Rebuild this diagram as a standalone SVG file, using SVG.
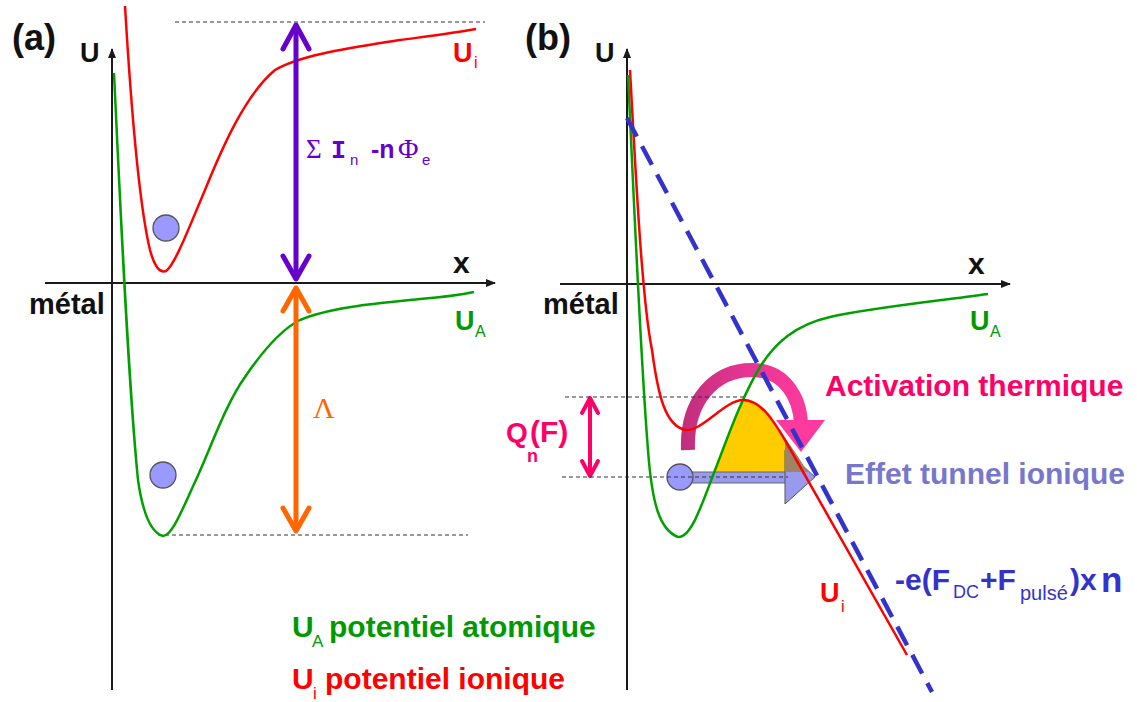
<svg xmlns="http://www.w3.org/2000/svg" width="1137" height="702" viewBox="0 0 1137 702">
<style>
text{font-family:"Liberation Sans",Arial,sans-serif;font-weight:bold}
.ax{stroke:#1a1a1a;stroke-width:2;fill:none}
.dash{stroke:#333;stroke-width:1.2;stroke-dasharray:4 3;fill:none}
.red{stroke:#FF0000;stroke-width:2.5;fill:none}
.grn{stroke:#00A000;stroke-width:2.5;fill:none}
.ball{fill:#9999FF;stroke:#555;stroke-width:1.3}
.blk{fill:#111}
.tr{fill:#FF0000}
.tg{fill:#009900}
.sub{font-weight:normal}
.serif{font-family:"Liberation Serif","Times New Roman",serif;font-weight:normal}
.mono{font-family:"Liberation Mono","Courier New",monospace;font-weight:bold}
</style>
<defs>
<marker id="ah" markerWidth="10" markerHeight="8" refX="9" refY="4" orient="auto" markerUnits="userSpaceOnUse"><path d="M0,0 L10,4 L0,8 Z" fill="#1a1a1a"/></marker>
<linearGradient id="pinkg" gradientUnits="userSpaceOnUse" x1="680" y1="0" x2="815" y2="0"><stop offset="0" stop-color="#BF2E7C"/><stop offset="0.5" stop-color="#E83592"/><stop offset="1" stop-color="#FF3A9E"/></linearGradient>
</defs>

<g id="panel-a">
<g id="a-axes">
<line class="ax" x1="112" y1="690" x2="112" y2="49" marker-end="url(#ah)"/>
<line class="ax" x1="45" y1="283" x2="495" y2="283" marker-end="url(#ah)"/>
<text class="blk" x="12" y="50" font-size="36">(a)</text>
<text class="blk" x="80" y="62" font-size="27">U</text>
<text class="blk" x="453" y="273" font-size="30">x</text>
<text class="blk" x="29" y="314" font-size="29">métal</text>
</g>
<g id="a-refs">
<line class="dash" x1="175" y1="22" x2="485" y2="22"/>
<line class="dash" x1="158" y1="535" x2="468" y2="535"/>
</g>
<g id="a-Ui">
<path class="red" d="M125,6 C130,90 138,200 150,250 C155,268 160,273 166,271 C175,265 190,225 205,190 C222,148 245,95 275,70 C300,55 350,48 400,40 C430,36 455,33 476,29"/>
<text class="tr" x="453" y="62" font-size="27">U<tspan class="sub" x="474" y="68" font-size="16">i</tspan></text>
</g>
<g id="a-UA">
<path class="grn" d="M114,73 C120,200 128,380 138,480 C143,515 152,533 163,536 C172,536 182,510 195,482 C210,450 225,405 245,377 C262,352 280,330 300,320 C330,307 380,303 420,299 C445,297 460,295 474,292"/>
<text class="tg" x="455" y="330" font-size="27">U<tspan class="sub" x="475" y="337" font-size="16">A</tspan></text>
</g>
<circle id="a-ion" class="ball" cx="166" cy="228" r="13"/>
<circle id="a-atom" class="ball" cx="163" cy="475" r="13"/>
</g>

<g id="connectors">
<g id="a-ionisation" stroke="#6600CC" stroke-width="5" fill="none" stroke-linecap="round" stroke-linejoin="round">
<line x1="296" y1="26" x2="296" y2="278"/>
<polyline points="283,49 296,25 309,49"/>
<polyline points="283,256 296,279 309,256"/>
</g>
<g id="a-lambda" stroke="#FF6600" stroke-width="5" fill="none" stroke-linecap="round" stroke-linejoin="round">
<line x1="296" y1="289" x2="296" y2="530"/>
<polyline points="283,311 296,288 309,311"/>
<polyline points="283,508 296,531 309,508"/>
</g>
<g id="b-Q" stroke="#FF0066" stroke-width="4" fill="none" stroke-linecap="round" stroke-linejoin="round">
<line x1="590" y1="399" x2="590" y2="475"/>
<polyline points="582,413 590,398 598,413"/>
<polyline points="582,461 590,476 598,461"/>
</g>
</g>

<g id="a-labels">
<text fill="#6600CC" y="158" font-size="22"><tspan class="serif" x="306" font-size="27">Σ</tspan><tspan class="mono" x="331" font-size="25">I</tspan><tspan class="sub" x="350" y="165" font-size="15">n</tspan><tspan x="371" y="158" font-size="25">-n</tspan><tspan class="serif" x="398" font-size="28">Φ</tspan><tspan class="sub" x="422" y="165" font-size="15">e</tspan></text>
<text class="serif" fill="#FF6600" x="313" y="418" font-size="30">Λ</text>
</g>

<g id="legend">
<text class="tg" x="292" y="637" font-size="30">U<tspan class="sub" x="312" y="647" font-size="17">A</tspan><tspan x="329" y="637">potentiel atomique</tspan></text>
<text class="tr" x="292" y="689" font-size="30">U<tspan class="sub" x="313" y="699" font-size="17">i</tspan><tspan x="325" y="689">potentiel ionique</tspan></text>
</g>

<g id="panel-b">
<g id="b-axes">
<line class="ax" x1="627" y1="690" x2="627" y2="49" marker-end="url(#ah)"/>
<line class="ax" x1="560" y1="284" x2="1010" y2="284" marker-end="url(#ah)"/>
<text class="blk" x="525" y="50" font-size="36">(b)</text>
<text class="blk" x="595" y="62" font-size="27">U</text>
<text class="blk" x="968" y="274" font-size="30">x</text>
<text class="blk" x="543" y="314" font-size="29">métal</text>
</g>
<g id="b-barrier">
<path d="M713,472 C722,450 732,425 742,402 C752,398 764,405 772,418 L785,438 L785,472 Z" fill="#FFCC00"/>
</g>
<g id="b-pink-arc">
<path d="M688,450 C686,400 715,370 752,370 C785,370 800,398 801,424" fill="none" stroke="url(#pinkg)" stroke-width="14"/>
<polygon points="776,420 825,420 801,452" fill="#FF3A9E"/>
</g>
<g id="b-tunnel">
<rect x="690" y="472" width="97" height="11" fill="#9999EE" stroke="#666" stroke-width="1"/>
<polygon points="785,450 815,477 785,504" fill="#9999EE" stroke="#555" stroke-width="1"/>
<path d="M785,438 L795,452 L804,466 L810,472 L785,472 Z" fill="#9E8466"/>
</g>
<circle id="b-ion" class="ball" cx="680" cy="477" r="13"/>
<g id="b-refs">
<line class="dash" x1="565" y1="397" x2="745" y2="397"/>
<line class="dash" x1="562" y1="477" x2="788" y2="477"/>
</g>
<g id="b-UA">
<path class="grn" d="M628,75 C634,200 640,350 648,450 C652,505 660,530 678,537 C690,538 700,510 712,478 C725,445 740,400 760,367 C775,343 795,325 830,317 C870,308 930,302 988,294"/>
<text class="tg" x="970" y="330" font-size="27">U<tspan class="sub" x="990" y="337" font-size="16">A</tspan></text>
</g>
<g id="b-Ui">
<path class="red" d="M630,70 C636,180 642,300 652,350 C658,395 665,425 685,430 C702,432 725,400 743,400 C760,400 772,418 785,440 L907,655"/>
<text class="tr" x="820" y="602" font-size="27">U<tspan class="sub" x="841" y="612" font-size="16">i</tspan></text>
</g>
<g id="b-field">
<line x1="627" y1="118" x2="932" y2="692" stroke="#3333CC" stroke-width="4.5" stroke-dasharray="21 11"/>
<text fill="#3333CC" y="590" font-size="30"><tspan x="895">-e(F</tspan><tspan class="sub" x="953" y="598" font-size="18">DC</tspan><tspan x="980" y="590">+F</tspan><tspan class="sub" x="1020" y="600" font-size="20">pulsé</tspan><tspan x="1070" y="590">)x</tspan><tspan x="1101" y="592" font-size="35">n</tspan></text>
</g>
<g id="b-labels">
<text fill="#FF0066" x="825" y="396" font-size="30">Activation thermique</text>
<text fill="#7777CC" x="845" y="484" font-size="30">Effet tunnel ionique</text>
<text fill="#FF0066" font-size="28"><tspan x="506" y="442">Q</tspan><tspan x="530" y="442" font-size="30">(F)</tspan><tspan x="527" y="462" font-size="18">n</tspan></text>
</g>
</g>
</svg>
